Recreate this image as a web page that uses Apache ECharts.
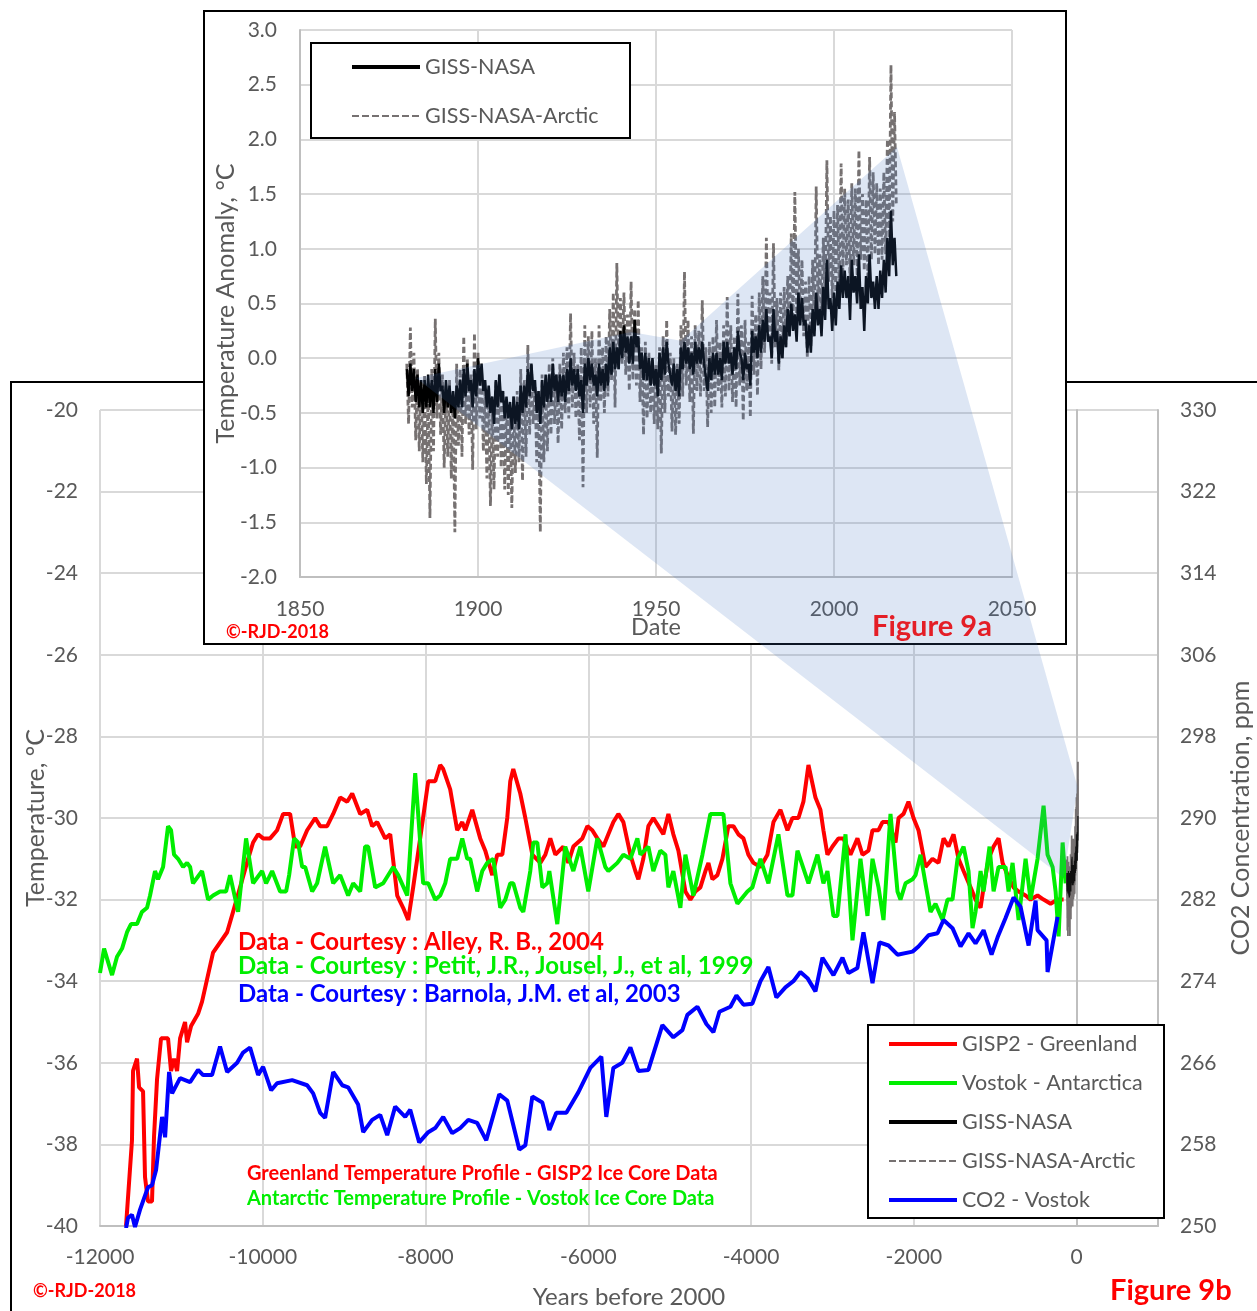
<!DOCTYPE html>
<html><head><meta charset="utf-8">
<script src="https://cdn.jsdelivr.net/npm/echarts@6/dist/echarts.min.js"></script>
<style>html,body{margin:0;padding:0;background:#fff;overflow:hidden}#c{width:1257px;height:1311px}</style>
</head><body><div id="c"></div>
<script>
// ---------------- DATA ----------------
// Figure 9b: Years before 2000 vs temperature (°C) and CO2 (ppm)
const gisp2Greenland = [
[-11680,-40.0],[-11607,-37.9],[-11594,-36.2],[-11545,-35.9],[-11520,-36.6],[-11471,-36.7],[-11447,-38.8],[-11410,-39.4],[-11361,-39.4],[-11336,-37.8],
[-11299,-36.4],[-11250,-35.4],[-11164,-35.4],[-11127,-36.2],[-11090,-35.9],[-11053,-36.2],[-11016,-35.4],[-10955,-35.0],[-10930,-35.5],[-10881,-35.1],
[-10795,-34.8],[-10746,-34.5],[-10611,-33.3],[-10438,-32.8],[-10365,-32.3],[-10279,-31.7],[-10180,-31.0],[-10119,-30.6],[-10057,-30.4],[-9996,-30.5],
[-9910,-30.5],[-9824,-30.3],[-9750,-29.9],[-9664,-29.9],[-9602,-30.7],[-9541,-30.7],[-9455,-30.3],[-9356,-30.0],[-9295,-30.2],[-9209,-30.2],
[-9135,-29.9],[-9049,-29.5],[-8963,-29.6],[-8901,-29.4],[-8803,-29.9],[-8717,-29.8],[-8656,-30.2],[-8594,-30.1],[-8496,-30.5],[-8434,-30.4],
[-8348,-31.9],[-8275,-32.2],[-8213,-32.5],[-8152,-31.7],[-8066,-30.5],[-7967,-29.1],[-7881,-29.1],[-7820,-28.7],[-7783,-28.8],[-7697,-29.3],
[-7611,-30.3],[-7549,-30.1],[-7512,-30.3],[-7426,-29.8],[-7328,-30.5],[-7266,-30.8],[-7180,-31.4],[-7119,-30.9],[-7057,-30.9],[-6996,-30.0],
[-6959,-29.1],[-6922,-28.8],[-6836,-29.4],[-6774,-30.0],[-6688,-30.9],[-6590,-31.1],[-6528,-30.9],[-6467,-30.5],[-6405,-30.9],[-6307,-30.7],
[-6246,-31.1],[-6184,-30.7],[-6074,-30.5],[-6012,-30.2],[-5951,-30.3],[-5889,-30.5],[-5815,-30.7],[-5754,-30.4],[-5692,-30.1],[-5631,-29.9],
[-5569,-30.1],[-5483,-30.9],[-5422,-31.3],[-5385,-31.5],[-5324,-31.0],[-5262,-30.2],[-5201,-30.0],[-5139,-30.2],[-5078,-30.4],[-5016,-29.9],
[-4955,-30.4],[-4893,-30.8],[-4807,-31.8],[-4746,-32.0],[-4684,-31.8],[-4623,-31.7],[-4561,-31.3],[-4524,-31.1],[-4475,-31.5],[-4414,-31.4],
[-4352,-31.0],[-4279,-30.2],[-4217,-30.2],[-4156,-30.4],[-4094,-30.5],[-4033,-30.9],[-3971,-31.1],[-3885,-31.2],[-3799,-30.9],[-3725,-30.1],
[-3639,-29.8],[-3553,-30.3],[-3492,-30.0],[-3418,-30.0],[-3357,-29.6],[-3295,-28.7],[-3209,-29.5],[-3148,-29.8],[-3111,-30.3],[-3062,-30.9],
[-3000,-30.7],[-2926,-30.5],[-2865,-30.5],[-2779,-30.9],[-2693,-30.5],[-2631,-30.9],[-2557,-30.8],[-2508,-30.3],[-2434,-30.3],[-2385,-30.1],
[-2311,-30.1],[-2225,-30.6],[-2188,-30.0],[-2127,-29.9],[-2066,-29.6],[-2004,-30.0],[-1943,-30.3],[-1857,-31.2],[-1771,-31.0],[-1697,-31.1],
[-1635,-30.5],[-1574,-30.7],[-1512,-30.4],[-1451,-31.0],[-1389,-31.3],[-1303,-31.7],[-1242,-32.0],[-1180,-32.2],[-1143,-31.7],[-1082,-31.0],
[-1020,-30.7],[-959,-30.5],[-910,-31.1],[-848,-31.4],[-775,-31.7],[-713,-31.8],[-627,-31.9],[-566,-32.0],[-480,-31.9],[-406,-32.0],
[-320,-32.1],[-234,-32.0],[-160,-32.0]
];
const vostokAntarctica = [
[-12000,-33.8],[-11950,-33.2],[-11852,-33.85],[-11791,-33.4],[-11729,-33.2],[-11668,-32.8],[-11619,-32.6],[-11545,-32.6],[-11484,-32.3],[-11422,-32.2],
[-11385,-31.9],[-11324,-31.3],[-11287,-31.5],[-11225,-31.2],[-11164,-30.2],[-11127,-30.3],[-11090,-30.9],[-11041,-31.0],[-10979,-31.2],[-10930,-31.1],
[-10893,-31.2],[-10857,-31.6],[-10746,-31.3],[-10672,-32.0],[-10611,-31.9],[-10525,-31.8],[-10451,-31.8],[-10402,-31.4],[-10303,-32.3],[-10205,-30.5],
[-10119,-31.6],[-10008,-31.3],[-9959,-31.6],[-9885,-31.3],[-9787,-31.8],[-9713,-31.8],[-9676,-31.4],[-9615,-30.5],[-9566,-30.6],[-9516,-31.2],
[-9479,-31.2],[-9393,-31.8],[-9332,-31.6],[-9234,-30.7],[-9135,-31.6],[-9049,-31.4],[-8951,-31.9],[-8889,-31.6],[-8803,-31.8],[-8742,-30.7],
[-8705,-30.7],[-8619,-31.7],[-8520,-31.6],[-8397,-31.2],[-8336,-31.4],[-8225,-31.9],[-8127,-28.9],[-8029,-31.6],[-7967,-31.6],[-7881,-32.0],
[-7820,-31.9],[-7758,-31.6],[-7697,-31.0],[-7611,-31.0],[-7549,-30.5],[-7488,-31.0],[-7451,-31.0],[-7365,-31.8],[-7303,-31.3],[-7242,-31.1],
[-7168,-31.0],[-7082,-32.2],[-7020,-32.0],[-6959,-31.6],[-6922,-31.6],[-6836,-32.2],[-6799,-32.3],[-6713,-31.3],[-6676,-30.6],[-6627,-30.6],
[-6565,-31.7],[-6504,-31.6],[-6479,-31.3],[-6381,-32.6],[-6283,-30.7],[-6184,-31.3],[-6098,-30.7],[-6000,-31.8],[-5889,-30.5],[-5791,-31.2],
[-5754,-31.3],[-5643,-31.1],[-5569,-30.9],[-5483,-31.0],[-5397,-30.5],[-5360,-30.9],[-5262,-30.7],[-5201,-31.3],[-5115,-30.8],[-5053,-30.9],
[-5016,-31.7],[-4955,-31.3],[-4869,-32.2],[-4807,-30.9],[-4709,-31.9],[-4598,-30.9],[-4500,-29.9],[-4340,-29.9],[-4254,-31.6],[-4168,-32.1],
[-4045,-31.8],[-3984,-31.7],[-3885,-31.0],[-3787,-31.6],[-3664,-30.4],[-3553,-31.9],[-3492,-31.9],[-3430,-30.8],[-3295,-31.6],[-3184,-30.9],
[-3111,-31.6],[-3062,-31.3],[-2988,-32.4],[-2939,-32.4],[-2840,-30.4],[-2754,-33.0],[-2656,-31.0],[-2570,-32.4],[-2508,-31.0],[-2434,-31.7],
[-2373,-32.5],[-2287,-29.9],[-2201,-31.8],[-2164,-32.0],[-2102,-31.6],[-2016,-31.5],[-1979,-31.4],[-1918,-30.9],[-1857,-31.6],[-1795,-32.3],
[-1734,-32.1],[-1648,-32.5],[-1586,-32.0],[-1525,-32.0],[-1463,-31.0],[-1389,-30.7],[-1328,-31.3],[-1279,-32.7],[-1242,-32.3],[-1180,-31.3],
[-1143,-31.8],[-1070,-30.7],[-1020,-31.8],[-959,-31.2],[-873,-31.2],[-836,-31.8],[-787,-31.1],[-713,-32.5],[-627,-31.0],[-566,-32.0],
[-480,-31.0],[-406,-29.7],[-357,-30.9],[-295,-31.2],[-258,-31.8],[-221,-32.9],[-172,-30.6],[-135,-31.6]
];
const co2Vostok = [
[-11680,249.8],[-11656,250.8],[-11607,251.1],[-11570,249.9],[-11508,251.6],[-11410,253.8],[-11361,254.0],[-11311,255.5],[-11237,260.7],[-11200,258.7],
[-11151,265.1],[-11114,263.0],[-11016,264.5],[-10893,264.1],[-10795,265.3],[-10733,264.8],[-10623,264.8],[-10525,267.6],[-10438,265.1],[-10315,266.0],
[-10242,267.0],[-10156,267.5],[-10057,264.8],[-9996,265.6],[-9897,263.3],[-9824,264.0],[-9639,264.3],[-9455,263.8],[-9381,263.0],[-9295,261.1],
[-9234,260.6],[-9135,265.1],[-9024,263.8],[-8951,263.6],[-8828,261.9],[-8766,259.2],[-8656,260.4],[-8557,260.9],[-8471,258.9],[-8373,261.7],
[-8250,260.7],[-8188,261.4],[-8078,258.2],[-7967,259.2],[-7881,259.6],[-7783,260.7],[-7672,259.1],[-7574,259.6],[-7475,260.4],[-7365,260.1],
[-7254,258.4],[-7094,262.9],[-6996,262.3],[-6848,257.5],[-6774,257.9],[-6688,262.7],[-6565,262.1],[-6479,259.4],[-6393,261.1],[-6270,261.1],
[-6123,263.1],[-5975,265.5],[-5840,266.6],[-5779,260.7],[-5692,265.5],[-5582,266.0],[-5483,267.5],[-5385,265.2],[-5262,265.3],[-5090,269.7],
[-4955,268.5],[-4844,269.2],[-4783,270.7],[-4660,271.5],[-4549,269.8],[-4463,269.0],[-4389,271.0],[-4254,271.5],[-4180,272.6],[-4094,271.7],
[-3984,271.8],[-3885,274.0],[-3787,275.4],[-3689,272.4],[-3578,273.4],[-3480,274.0],[-3394,274.9],[-3307,274.3],[-3209,273.0],[-3123,276.3],
[-2988,274.6],[-2877,276.3],[-2803,274.8],[-2693,275.3],[-2619,278.8],[-2508,273.8],[-2422,277.8],[-2311,277.5],[-2201,276.6],[-2016,276.9],
[-1943,277.4],[-1820,278.5],[-1709,278.7],[-1635,280.0],[-1525,279.2],[-1426,277.4],[-1328,278.7],[-1242,277.7],[-1143,279.0],[-1045,276.6],
[-971,278.3],[-873,280.2],[-775,282.2],[-689,281.3],[-590,277.5],[-504,281.9],[-480,279.0],[-369,278.0],[-357,274.9],[-234,280.3]
];

// Figure 9a: GISS anomalies, two readings (high, low) per year from 1880
const gissFirstYear = 1880;
const gissNasa = [
-0.10,-0.35,-0.05,-0.30,-0.10,-0.40,-0.15,-0.45,-0.20,-0.50,-0.20,-0.45,-0.15,-0.45,-0.20,-0.50,-0.10,-0.40,-0.05,-0.30,
-0.25,-0.50,-0.20,-0.45,-0.25,-0.50,-0.30,-0.55,-0.25,-0.45,-0.20,-0.45,-0.10,-0.35,-0.05,-0.30,-0.20,-0.45,-0.10,-0.35,
0.00,-0.25,-0.05,-0.30,-0.20,-0.45,-0.25,-0.50,-0.35,-0.60,-0.20,-0.45,-0.15,-0.40,-0.30,-0.55,-0.35,-0.55,-0.40,-0.65,
-0.35,-0.60,-0.40,-0.65,-0.25,-0.50,-0.25,-0.45,-0.10,-0.35,-0.05,-0.30,-0.20,-0.50,-0.30,-0.60,-0.20,-0.45,-0.15,-0.40,
-0.15,-0.40,-0.05,-0.30,-0.15,-0.40,-0.15,-0.35,-0.15,-0.40,-0.10,-0.30,0.00,-0.25,-0.10,-0.30,-0.10,-0.35,-0.20,-0.50,
-0.05,-0.25,0.00,-0.20,-0.05,-0.25,-0.15,-0.35,-0.05,-0.25,-0.10,-0.30,-0.05,-0.25,0.10,-0.15,0.15,-0.10,0.10,-0.10,
0.25,0.00,0.30,0.05,0.20,-0.05,0.20,-0.05,0.35,0.10,0.20,-0.10,0.05,-0.20,0.05,-0.20,0.00,-0.25,0.00,-0.25,
-0.10,-0.35,0.05,-0.20,0.10,-0.15,0.15,-0.05,-0.05,-0.25,-0.05,-0.30,-0.10,-0.35,0.10,-0.10,0.15,-0.05,0.10,-0.10,
0.05,-0.15,0.15,-0.05,0.10,-0.05,0.15,-0.05,-0.05,-0.30,0.00,-0.20,0.05,-0.15,0.05,-0.15,0.00,-0.20,0.15,-0.05,
0.15,-0.05,0.05,-0.15,0.10,-0.10,0.25,0.05,0.00,-0.20,0.05,-0.10,-0.05,-0.25,0.25,0.05,0.20,0.00,0.30,0.05,
0.35,0.15,0.45,0.15,0.20,0.00,0.45,0.15,0.25,-0.05,0.20,0.00,0.30,0.10,0.45,0.20,0.50,0.25,0.40,0.15,
0.60,0.30,0.55,0.30,0.35,0.05,0.30,0.05,0.45,0.20,0.60,0.30,0.45,0.20,0.65,0.35,0.90,0.45,0.55,0.25,
0.60,0.30,0.70,0.45,0.85,0.55,0.80,0.55,0.75,0.35,0.90,0.60,0.75,0.50,0.95,0.45,0.65,0.25,0.75,0.50,
0.95,0.55,0.70,0.45,0.75,0.45,0.80,0.55,0.90,0.60,1.10,0.75,1.35,0.85,1.10,0.75
];
const gissNasaArctic = [
-0.05,-0.60,0.28,-0.45,0.05,-0.75,-0.10,-0.85,-0.20,-0.95,-0.15,-1.15,-0.25,-1.46,-0.10,-0.85,0.36,-0.55,0.05,-0.70,
-0.15,-1.00,-0.25,-0.90,-0.20,-1.10,-0.30,-1.59,-0.05,-0.80,-0.10,-0.90,0.20,-0.60,0.00,-0.70,-0.15,-1.02,0.23,-0.65,
0.05,-0.55,-0.10,-0.85,-0.30,-1.10,-0.35,-1.35,-0.45,-1.20,-0.20,-0.90,-0.15,-1.00,-0.30,-1.20,-0.40,-1.25,-0.45,-1.37,
-0.35,-1.05,-0.30,-0.95,-0.10,-1.12,-0.20,-0.90,0.12,-0.70,-0.05,-0.60,-0.25,-0.95,-0.30,-1.59,-0.15,-0.95,-0.20,-0.85,
-0.05,-0.70,0.00,-0.60,-0.15,-0.78,-0.05,-0.65,0.05,-0.50,0.10,-0.55,0.41,-0.45,0.05,-0.55,-0.05,-0.75,0.10,-1.18,
0.30,-0.50,0.20,-0.45,0.25,-0.60,0.00,-0.91,0.30,-0.40,0.10,-0.50,0.20,-0.35,0.45,-0.20,0.60,-0.45,0.87,-0.10,
0.55,-0.05,0.60,-0.15,0.40,-0.30,0.70,-0.20,0.45,-0.25,0.53,-0.40,0.10,-0.70,0.15,-0.55,0.05,-0.50,0.00,-0.60,
-0.05,-0.65,0.10,-0.87,0.20,-0.50,0.35,-0.35,0.05,-0.67,0.00,-0.70,-0.05,-0.60,0.30,-0.35,0.79,-0.25,0.35,-0.40,
0.20,-0.69,0.30,-0.30,0.25,-0.35,0.53,-0.30,0.10,-0.63,0.15,-0.50,0.20,-0.45,0.35,-0.30,0.15,-0.45,0.30,-0.35,
0.56,-0.30,0.30,-0.40,0.20,-0.45,0.59,-0.25,0.30,-0.57,0.35,-0.30,0.15,-0.54,0.57,-0.15,0.40,-0.34,0.60,-0.10,
0.75,0.05,1.10,0.15,0.60,-0.05,1.05,0.10,0.55,-0.11,0.60,0.00,0.65,0.10,0.75,0.20,1.14,0.30,1.52,0.40,
1.00,0.35,0.90,0.20,0.70,0.00,0.75,0.10,0.90,0.25,1.57,0.45,0.95,0.35,1.10,0.45,1.81,0.70,1.30,0.55,
1.35,0.60,1.40,0.65,1.78,0.75,1.55,0.85,1.45,0.70,1.60,0.85,1.55,0.75,1.90,0.90,1.50,0.80,1.45,0.75,
1.84,0.90,1.70,0.95,1.60,0.85,1.55,0.90,1.70,0.95,2.00,1.10,2.68,1.25,2.25,1.40
];
// anomaly -> Figure 9b temperature offset used for the GISS overlay
const gissOffset = -31.3;

// tick settings
const mainXTicks = {min: -12000, max: 1000, interval: 2000};
const mainTempTicks = {min: -40, max: -20, interval: 2};
const co2Ticks = {min: 250, max: 330, interval: 8};
const insetXTicks = {min: 1850, max: 2050, interval: 50};
const insetYTicks = {min: -2, max: 3, interval: 0.5};

// ---------------- BUILD ----------------
const FONT = 'Lato, "Open Sans", sans-serif';
const LBL = '#595959';
const GRID = '#d9d9d9';
const AXL = '#bfbfbf';

function pairsToXY(vals, toX) {
  return vals.map((v, i) => [toX(gissFirstYear + i * 0.5), v]);
}
const gissInset = pairsToXY(gissNasa, y => y);
const arcticInset = pairsToXY(gissNasaArctic, y => y);
const gissMain = pairsToXY(gissNasa, y => y - 2000);
const arcticMain = pairsToXY(gissNasaArctic, y => y - 2000);

const chart = echarts.init(document.getElementById('c'), null, {renderer: 'canvas', width: 1257, height: 1311});

const axisLabelStyle = {color: LBL, fontSize: 21, fontFamily: FONT};
const nameStyleX = {color: LBL, fontSize: 24, fontFamily: FONT};
const nameStyleY = {color: LBL, fontSize: 25, fontFamily: FONT};
const legendText = {color: LBL, fontSize: 21.5, fontFamily: FONT, lineHeight: 20};

const option = {
  animation: false,
  backgroundColor: '#fff',
  textStyle: {fontFamily: FONT},
  grid: [
    {left: 100, width: 1058, top: 410, height: 816, containLabel: false, outerBoundsMode: 'none'},
    {left: 300, width: 712, top: 30, height: 547, containLabel: false, outerBoundsMode: 'none'}
  ],
  xAxis: [
    {type: 'value', gridIndex: 0, min: mainXTicks.min, max: mainXTicks.max, interval: mainXTicks.interval,
     z: 1,
     name: 'Years before 2000', nameLocation: 'middle', nameGap: 59, nameMoveOverlap: false, nameTextStyle: nameStyleX,
     axisLine: {show: true, onZero: false, lineStyle: {color: AXL, width: 2}},
     axisTick: {show: false},
     splitLine: {show: true, lineStyle: {color: GRID, width: 2}},
     axisLabel: Object.assign({margin: 21, showMaxLabel: false, formatter: v => v > 0 ? '' : String(v)}, axisLabelStyle)},
    {type: 'value', gridIndex: 1, min: insetXTicks.min, max: insetXTicks.max, interval: insetXTicks.interval,
     z: 6,
     name: 'Date', nameLocation: 'middle', nameGap: 38, nameMoveOverlap: false, nameTextStyle: {color: LBL, fontSize: 23.5, fontFamily: FONT},
     axisLine: {show: true, onZero: false, lineStyle: {color: AXL, width: 2}},
     axisTick: {show: false},
     splitLine: {show: true, lineStyle: {color: GRID, width: 2}},
     axisLabel: Object.assign({margin: 22, formatter: v => String(v)}, axisLabelStyle)}
  ],
  yAxis: [
    {type: 'value', gridIndex: 0, position: 'left', min: mainTempTicks.min, max: mainTempTicks.max, interval: mainTempTicks.interval,
     z: 1,
     name: 'Temperature, °C', nameLocation: 'middle', nameGap: 52, nameMoveOverlap: false, nameTextStyle: nameStyleY,
     axisLine: {show: true, lineStyle: {color: AXL, width: 2}},
     axisTick: {show: false},
     splitLine: {show: true, lineStyle: {color: GRID, width: 2}},
     axisLabel: Object.assign({margin: 22, formatter: v => String(v)}, axisLabelStyle)},
    {type: 'value', gridIndex: 0, position: 'right', min: co2Ticks.min, max: co2Ticks.max, interval: co2Ticks.interval,
     z: 1,
     name: 'CO2 Concentration, ppm', nameLocation: 'middle', nameGap: 70, nameMoveOverlap: false, nameTextStyle: nameStyleY,
     axisLine: {show: true, lineStyle: {color: AXL, width: 2}},
     axisTick: {show: false},
     splitLine: {show: false},
     axisLabel: Object.assign({margin: 22, formatter: v => String(v)}, axisLabelStyle)},
    {type: 'value', gridIndex: 0, show: false, min: mainTempTicks.min - gissOffset, max: mainTempTicks.max - gissOffset,
     splitLine: {show: false}},
    {type: 'value', gridIndex: 1, min: insetYTicks.min, max: insetYTicks.max, interval: insetYTicks.interval,
     z: 6,
     name: 'Temperature Anomaly, °C', nameLocation: 'middle', nameGap: 62, nameMoveOverlap: false, nameTextStyle: nameStyleY,
     axisLine: {show: true, lineStyle: {color: AXL, width: 2}},
     axisTick: {show: false},
     splitLine: {show: true, lineStyle: {color: GRID, width: 2}},
     axisLabel: Object.assign({margin: 23, formatter: v => v.toFixed(1)}, axisLabelStyle)}
  ],
  legend: [
    {orient: 'vertical', left: 887, top: 1033, padding: 0, itemWidth: 68, itemHeight: 14, itemGap: 17, selectedMode: false, z: 4,
     itemStyle: {opacity: 0},
     textStyle: legendText,
     data: [
       {name: 'GISP2 - Greenland', lineStyle: {width: 4}},
       {name: 'Vostok - Antarctica', lineStyle: {width: 4}},
       {name: 'GISS-NASA', lineStyle: {width: 4, color: '#000'}},
       {name: 'GISS-NASA-Arctic', lineStyle: {width: 2, type: [7, 3], color: '#767171'}},
       {name: 'CO2 - Vostok', lineStyle: {width: 4}}
     ]},
    {orient: 'vertical', left: 350, top: 56, padding: 0, itemWidth: 68, itemHeight: 14, itemGap: 27, selectedMode: false, z: 10,
     itemStyle: {opacity: 0},
     textStyle: legendText,
     data: [
       {name: 'GISS-NASA', lineStyle: {width: 4, color: '#000'}},
       {name: 'GISS-NASA-Arctic', lineStyle: {width: 2, type: [7, 3], color: '#767171'}}
     ]}
  ],
  series: [
    {name: 'GISP2 - Greenland', type: 'line', xAxisIndex: 0, yAxisIndex: 0, data: gisp2Greenland, symbol: 'none', z: 2,
     lineStyle: {color: '#ff0000', width: 4}, itemStyle: {color: '#ff0000'}},
    {name: 'Vostok - Antarctica', type: 'line', xAxisIndex: 0, yAxisIndex: 0, data: vostokAntarctica, symbol: 'none', z: 2,
     lineStyle: {color: '#00ee00', width: 4}, itemStyle: {color: '#00ee00'}},
    {name: 'CO2 - Vostok', type: 'line', xAxisIndex: 0, yAxisIndex: 1, data: co2Vostok, symbol: 'none', z: 2,
     lineStyle: {color: '#0000ff', width: 4}, itemStyle: {color: '#0000ff'}},
    {name: 'GISS-NASA-Arctic', type: 'line', xAxisIndex: 0, yAxisIndex: 2, data: arcticMain, symbol: 'none', z: 2,
     lineStyle: {color: '#767171', width: 1.8}, itemStyle: {color: '#767171'}},
    {name: 'GISS-NASA', type: 'line', xAxisIndex: 0, yAxisIndex: 2, data: gissMain, symbol: 'none', z: 2,
     lineStyle: {color: '#111', width: 1.2}, itemStyle: {color: '#000'}},
    {name: 'GISS-NASA-Arctic', type: 'line', xAxisIndex: 1, yAxisIndex: 3, data: arcticInset, symbol: 'none', z: 7,
     lineStyle: {color: '#767171', width: 2.8, type: [6, 3]}, itemStyle: {color: '#767171'}},
    {name: 'GISS-NASA', type: 'line', xAxisIndex: 1, yAxisIndex: 3, data: gissInset, symbol: 'none', z: 8,
     lineStyle: {color: '#000', width: 2.5}, itemStyle: {color: '#000'}}
  ]
};
chart.setOption(option);

// connector shade between Figure 9a and Figure 9b (anchored in data coordinates)
const shadeInsetEdge = [[1882.6, -0.18], [1943, 0.24], [1957, 0.16], [2017.7, 1.93]];
const shadeMainEdge = [[12, -29.24], [-160, -31.47]];
const shadePts = shadeInsetEdge.map(p => chart.convertToPixel({xAxisIndex: 1, yAxisIndex: 3}, p))
  .concat(shadeMainEdge.map(p => chart.convertToPixel({xAxisIndex: 0, yAxisIndex: 0}, p)));

function txt(text, x, y, font, fill, z) {
  return {type: 'text', z: z || 30, silent: true,
    style: {text: text, x: x, y: y, font: font, fill: fill, align: 'left', verticalAlign: 'middle'}};
}
const bold = (s) => 'bold ' + s + 'px ' + FONT;

chart.setOption({
  graphic: {elements: [
    // outer frame of Figure 9b
    {type: 'rect', z: 0, silent: true, shape: {x: 11, y: 382, width: 1300, height: 1000},
     style: {fill: null, stroke: '#000', lineWidth: 2}},
    // Figure 9a box
    {type: 'rect', z: 5, silent: true, shape: {x: 204, y: 11, width: 862, height: 633},
     style: {fill: '#fff', stroke: '#000', lineWidth: 2}},
    // inset legend box
    {type: 'rect', z: 9, silent: true, shape: {x: 311, y: 43, width: 319, height: 95},
     style: {fill: '#fff', stroke: '#000', lineWidth: 2}},
    // main legend box
    {type: 'rect', z: 3, silent: true, shape: {x: 868, y: 1025, width: 296, height: 193},
     style: {fill: '#fff', stroke: '#000', lineWidth: 2}},
    // shade
    {type: 'polygon', z: 20, silent: true, shape: {points: shadePts},
     style: {fill: 'rgba(68,114,196,0.18)'}},
    txt('Data - Courtesy : Alley, R. B., 2004', 238, 942, bold(24), '#ff0000'),
    txt('Data - Courtesy : Petit, J.R., Jousel, J., et al, 1999', 238, 966, bold(24), '#00ee00'),
    txt('Data - Courtesy : Barnola, J.M. et al, 2003', 238, 994, bold(24), '#0000ff'),
    txt('Greenland Temperature Profile - GISP2 Ice Core Data', 247, 1174, bold(20), '#ff0000'),
    txt('Antarctic Temperature Profile - Vostok Ice Core Data', 247, 1199, bold(20), '#00ee00'),
    txt('©-RJD-2018', 33, 1291, bold(18), '#ff0000'),
    txt('©-RJD-2018', 226, 632, bold(18), '#ff0000'),
    txt('Figure 9b', 1110, 1291, bold(29), '#ff0000'),
    txt('Figure 9a', 872, 627, bold(29), '#e41e26')
  ]}
});
</script>
</body></html>
